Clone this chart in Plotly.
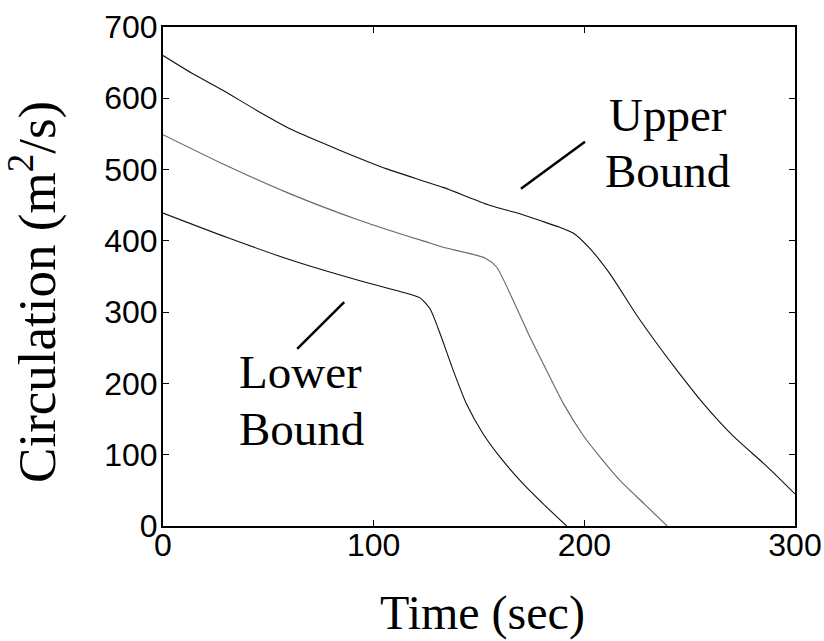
import plotly.graph_objects as go

# Upper bound curve
upper_t = [0, 14.4, 28.6, 44.5, 61.8, 82.4, 106.2, 133, 155, 169.4, 178.9, 188.4, 194.7, 202.7, 212.1, 224.8, 235.9, 243.8, 256.4, 270.7, 286.5, 300]
upper_v = [660, 634, 611, 583, 555, 529, 501, 475, 450, 438, 428.5, 419, 411, 389, 354, 296, 250, 219, 172, 126, 84, 45]

# Middle curve
mid_t = [0, 27, 58.7, 93.5, 112.5, 123.5, 133, 152.8, 158.4, 166.3, 174.2, 180.5, 190, 199.5, 207.4, 216.9, 228.8, 239.3]
mid_v = [549, 510, 468, 428.5, 410, 400, 391, 376, 363, 316, 265, 227.5, 172, 127, 97, 64, 30, 0]

# Lower bound curve
low_t = [0, 30.2, 61.8, 93.5, 112.5, 122, 126.7, 131.5, 137.8, 144.1, 152, 160, 171, 180.5, 191.6]
low_v = [439, 405, 372, 344, 329, 320, 305, 270, 218, 171, 129, 96.5, 59, 31, 0]

x_ticks = [0, 100, 200, 300]
y_ticks = [0, 100, 200, 300, 400, 500, 600, 700]

serif = "Liberation Serif, Times New Roman, serif"
sans = "Liberation Sans, Arial, Helvetica, sans-serif"

fig = go.Figure()
fig.add_trace(go.Scatter(x=upper_t, y=upper_v, mode="lines", line=dict(color="#111111", width=1.1, shape="spline", smoothing=0.6)))
fig.add_trace(go.Scatter(x=mid_t, y=mid_v, mode="lines", line=dict(color="#666666", width=1.1, shape="spline", smoothing=0.6)))
fig.add_trace(go.Scatter(x=low_t, y=low_v, mode="lines", line=dict(color="#111111", width=1.1, shape="spline", smoothing=0.6)))

# pointer segments
fig.add_shape(type="line", x0=169.9, y0=473, x1=200.3, y1=539, line=dict(color="black", width=2.5))
fig.add_shape(type="line", x0=63.7, y0=248.5, x1=86, y1=314, line=dict(color="black", width=2.5))

ann_font = dict(family=serif, size=47, color="black")
for txt, x, y in [("Upper", 239.7, 577), ("Bound", 239.5, 498), ("Lower", 65.5, 216), ("Bound", 65.8, 136.5)]:
    fig.add_annotation(x=x, y=y, text=txt, showarrow=False, font=ann_font, xanchor="center", yanchor="middle")

# axis titles
fig.add_annotation(xref="paper", yref="paper", x=0.506, y=-0.175, text="Time (sec)", showarrow=False,
                   font=dict(family=serif, size=48, color="black"), xanchor="center", yanchor="middle")
fig.add_annotation(xref="paper", yref="paper", x=-0.205, y=0.47, text="Circulation (m<sup>2</sup>/s)", showarrow=False,
                   textangle=-90, font=dict(family=serif, size=53, color="black"), xanchor="center", yanchor="middle")

axis_common = dict(
    showline=True, linecolor="black", linewidth=2, mirror="ticks",
    ticks="inside", ticklen=6, tickwidth=1, tickcolor="black",
    showgrid=False, zeroline=False, automargin=False,
    tickfont=dict(family=sans, size=32, color="black"),
)

fig.update_xaxes(range=[0, 300], tickvals=x_ticks, ticktext=[str(v) for v in x_ticks],
                 ticklabelstandoff=-10, **axis_common)
fig.update_yaxes(range=[0, 700], tickvals=y_ticks, ticktext=[str(v) for v in y_ticks],
                 ticklabelstandoff=-3, **axis_common)

fig.update_layout(
    width=824, height=641,
    margin=dict(l=163, r=29, t=27, b=115, pad=0),
    plot_bgcolor="white", paper_bgcolor="white",
    showlegend=False,
)

fig.write_html("out.html")
